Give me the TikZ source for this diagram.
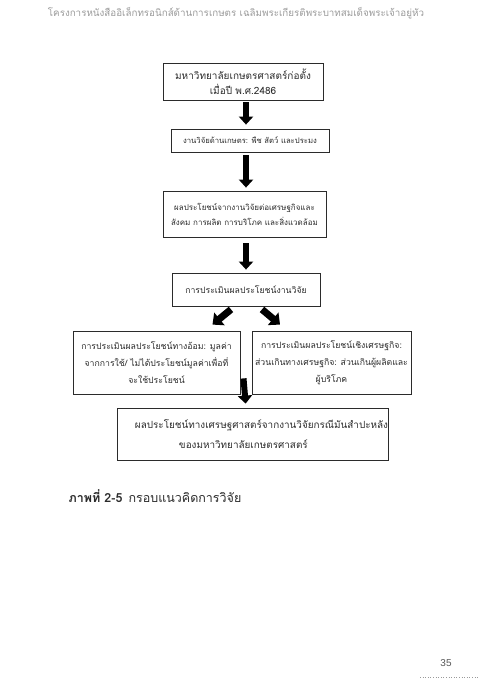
\documentclass[tikz,border=0pt]{standalone}
\usepackage{fontspec}
\setmainfont{Liberation Sans}
\newfontfamily\thaifont[Script=Thai]{Loma}
\usetikzlibrary{arrows.meta,calc}
\definecolor{pageink}{HTML}{2B2B2B}
\definecolor{headgray}{HTML}{9A9A9A}
\tikzset{
  stagebox/.style={draw=pageink, line width=0.8pt, align=center, text=pageink, inner sep=2pt, font=\thaifont\fontsize{8.7}{17}\selectfont},
  blockarrow/.style={-{Triangle[length=8pt,width=14pt]}, line width=6pt, draw=black},
  sidearrow/.style={-{Triangle[length=9pt,width=16pt]}, line width=7pt, draw=black}
}

\begin{document}
\begin{tikzpicture}[x=1pt,y=-1pt]
  \useasboundingbox (0,0) rectangle (480,695);
  % page header
  \node[text=headgray, font=\thaifont\fontsize{9.8}{12}\selectfont] (header) at (236,13) {โครงการหนังสืออิเล็กทรอนิกส์ด้านการเกษตร เฉลิมพระเกียรติพระบาทสมเด็จพระเจ้าอยู่หัว};

  % framework boxes
  \node[stagebox, minimum width=160pt, minimum height=37pt, font=\thaifont\fontsize{10}{15}\selectfont] (found) at (243,81.5) {มหาวิทยาลัยเกษตรศาสตร์ก่อตั้ง\\เมื่อปี พ.ศ.2486};
  \node[stagebox, minimum width=158pt, minimum height=23pt, font=\thaifont\fontsize{7.7}{10}\selectfont] (research) at (250,140.5) {งานวิจัยด้านเกษตร: พืช สัตว์ และประมง};
  \node[stagebox, minimum width=163pt, minimum height=46pt, font=\thaifont\fontsize{8}{15}\selectfont] (benefit) at (244.5,214) {ผลประโยชน์จากงานวิจัยต่อเศรษฐกิจและ\\สังคม การผลิต การบริโภค และสิ่งแวดล้อม};
  \node[stagebox, minimum width=148pt, minimum height=33pt] (assess) at (246,289.5) {การประเมินผลประโยชน์งานวิจัย};
  \node[stagebox, minimum width=167pt, minimum height=63pt] (indirect) at (156.5,362.5) {การประเมินผลประโยชน์ทางอ้อม: มูลค่า\\จากการใช้/ ไม่ได้ประโยชน์มูลค่าเพื่อที่\\จะใช้ประโยชน์};
  \node[stagebox, minimum width=159pt, minimum height=63pt] (economic) at (331.5,362.5) {การประเมินผลประโยชน์เชิงเศรษฐกิจ:\\ส่วนเกินทางเศรษฐกิจ: ส่วนเกินผู้ผลิตและ\\ผู้บริโภค};
  \node[stagebox, minimum width=271pt, minimum height=52pt, align=left, inner xsep=0pt, font=\thaifont\fontsize{9.9}{20}\selectfont] (result) at (252.5,434) {\hspace*{18pt}ผลประโยชน์ทางเศรษฐศาสตร์จากงานวิจัยกรณีมันสำปะหลัง\\\hspace*{62pt}ของมหาวิทยาลัยเกษตรศาสตร์};

  % arrows
  \coordinate (axis) at (246,0);
  \draw[blockarrow, shorten <=2pt, shorten >=4pt] (found.south -| axis) -- (research.north -| axis);
  \draw[blockarrow, shorten <=3pt, shorten >=3pt] (research.south -| axis) -- (benefit.north -| axis);
  \draw[blockarrow, shorten <=6pt, shorten >=3pt] (benefit.south -| axis) -- (assess.north -| axis);
  \draw[sidearrow] ([xshift=-15pt,yshift=-3pt]assess.south) -- ([xshift=56pt,yshift=6pt]indirect.north);
  \draw[sidearrow] ([xshift=16pt,yshift=-3pt]assess.south) -- ([xshift=-51.5pt,yshift=6pt]economic.north);
  \draw[blockarrow, shorten >=4pt] ($(indirect.south east -| axis)+(-2.5,-16)$) -- (result.north -| indirect.south east -| axis);

  % caption and page number
  \node[anchor=west, text=pageink, font=\thaifont\fontsize{12.5}{15}\selectfont] (caption) at (65,496) {\textbf{ภาพที่ 2-5}\hspace{6pt}กรอบแนวคิดการวิจัย};
  \node[text=pageink!80, font=\fontsize{10}{12}\selectfont] (pagenum) at (446,663) {35};
  \draw[headgray, line width=0.6pt, dotted] (pagenum.south -| 420,0) ++(0,7) coordinate (dots) -- (dots -| 479,0);
\end{tikzpicture}
\end{document}
